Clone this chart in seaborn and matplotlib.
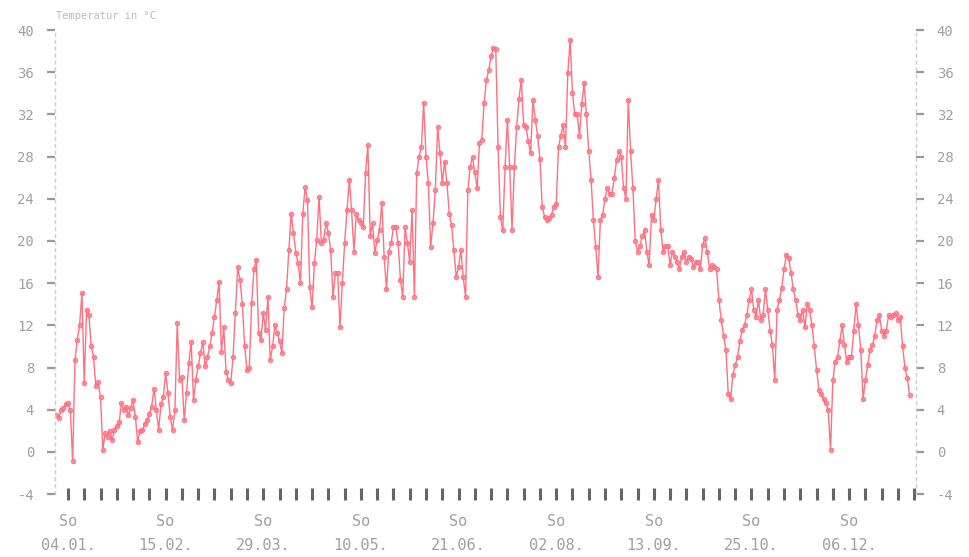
import numpy as np
import pandas as pd
import matplotlib
matplotlib.use("Agg")
import matplotlib.pyplot as plt
import matplotlib.dates as mdates
import seaborn as sns

# ---- data (daily temperature) ----
start_date = "2008-12-30"
temps = [
    3.5, 3.2, 4.0, 4.2, 4.5, 4.6, 4.0, -0.9, 8.7, 10.6, 12.0, 15.1, 6.5, 13.5, 13.0, 10.0,
    9.0, 6.2, 6.6, 5.2, 0.2, 1.8, 1.4, 2.0, 1.1, 2.1, 2.5, 2.8, 4.6, 4.0, 4.3, 3.5,
    4.2, 4.9, 3.3, 0.9, 2.0, 2.1, 2.6, 3.0, 3.6, 4.3, 6.0, 4.0, 2.1, 4.5, 5.2, 7.5,
    5.6, 3.3, 2.1, 4.0, 12.2, 6.8, 7.1, 3.0, 5.6, 8.4, 10.4, 4.9, 6.8, 8.1, 9.4, 10.4,
    8.1, 9.0, 10.0, 11.3, 12.8, 14.4, 16.1, 9.5, 11.8, 7.6, 6.8, 6.5, 9.0, 13.2, 17.5, 16.3,
    14.0, 10.0, 7.8, 8.0, 14.1, 17.3, 18.2, 11.3, 10.6, 13.2, 11.6, 14.7, 8.7, 10.0, 12.0, 11.3,
    10.5, 9.4, 13.6, 15.4, 19.1, 22.6, 20.8, 18.9, 17.9, 16.0, 22.6, 25.1, 23.9, 15.6, 13.7, 17.9,
    20.1, 24.2, 19.8, 20.1, 21.7, 20.8, 19.1, 14.7, 17.0, 17.0, 11.8, 16.0, 19.8, 22.9, 25.8, 22.9,
    19.0, 22.6, 22.0, 21.7, 21.3, 26.4, 29.1, 20.5, 21.7, 18.9, 20.1, 21.0, 23.6, 18.5, 15.4, 19.0,
    19.8, 21.3, 21.3, 19.8, 16.3, 14.7, 21.3, 19.8, 18.0, 22.9, 14.7, 26.4, 28.0, 28.9, 33.1, 28.0,
    25.5, 19.4, 21.7, 24.8, 30.8, 28.3, 25.5, 27.5, 25.5, 22.6, 21.5, 19.1, 16.6, 17.5, 19.1, 16.6,
    14.7, 24.8, 27.0, 28.0, 26.5, 25.0, 29.3, 29.6, 33.1, 35.3, 36.2, 37.5, 38.3, 38.2, 28.9, 22.3,
    21.0, 27.0, 31.5, 27.0, 21.0, 27.0, 30.8, 33.5, 35.3, 31.0, 30.8, 29.5, 28.3, 33.4, 31.5, 30.0,
    27.8, 23.2, 22.3, 22.0, 22.2, 22.5, 23.2, 23.5, 28.9, 30.0, 31.0, 28.9, 35.9, 39.1, 34.0, 32.0,
    32.0, 30.0, 33.0, 35.0, 32.0, 28.5, 25.8, 22.0, 19.4, 16.6, 22.0, 22.5, 24.0, 25.0, 24.5, 24.5,
    26.0, 27.7, 28.5, 28.0, 25.0, 24.0, 33.4, 28.5, 25.0, 20.0, 19.0, 19.5, 20.5, 21.0, 19.0, 17.7,
    22.5, 22.0, 24.0, 25.8, 21.0, 19.0, 19.5, 19.5, 17.7, 19.0, 18.5, 18.0, 17.3, 18.5, 19.0, 18.0,
    18.5, 18.3, 17.5, 18.0, 18.0, 17.3, 19.6, 20.3, 19.0, 17.3, 17.7, 17.5, 17.3, 14.4, 12.5, 11.0,
    9.7, 5.5, 5.0, 7.3, 8.2, 9.0, 10.5, 11.6, 12.0, 13.0, 14.4, 15.4, 13.5, 12.8, 14.4, 12.5,
    13.0, 15.4, 13.5, 11.5, 10.1, 6.8, 13.5, 14.4, 15.5, 17.3, 18.7, 18.4, 17.0, 15.4, 14.4, 13.0,
    12.5, 13.5, 11.8, 14.0, 13.5, 12.0, 10.0, 7.8, 5.9, 5.5, 5.0, 4.6, 4.0, 0.2, 6.8, 8.5,
    9.0, 10.5, 12.0, 10.1, 8.5, 9.0, 9.0, 11.5, 14.0, 12.0, 9.7, 5.0, 6.8, 8.2, 9.7, 10.1,
    11.0, 12.5, 13.0, 11.5, 11.0, 11.5, 13.0, 12.8, 13.0, 13.2, 12.5, 12.8, 10.0, 8.0, 7.0, 5.4,
]
y_ticks = [-4, 0, 4, 8, 12, 16, 20, 24, 28, 32, 36, 40]
x_label_dates = ["2009-01-04", "2009-02-15", "2009-03-29", "2009-05-10", "2009-06-21",
                 "2009-08-02", "2009-09-13", "2009-10-25", "2009-12-06"]
weekday_abbr = "So"
axis_title = "Temperatur in °C"

dates = pd.date_range(start_date, periods=len(temps), freq="D")
df = pd.DataFrame({"Datum": dates, "Temperatur": temps})

sns.set_style("white")
plt.rcParams["font.family"] = ["DejaVu Sans Mono", "DejaVu Sans"]

fig = plt.figure(figsize=(9.7, 5.57), dpi=100)
ax = fig.add_axes([0.0567, 0.113, 0.8876, 0.833])

sns.lineplot(data=df, x="Datum", y="Temperatur", ax=ax, color="#ff6073",
             linewidth=1.0, marker="o", markersize=3.4,
             markerfacecolor="#ff8090", markeredgecolor="#ff6073",
             markeredgewidth=0.5, alpha=0.9)

ax.set_ylim(-4, 40)
ax.set_xlim(pd.Timestamp("2008-12-29 10:00"), pd.Timestamp("2010-01-03 18:00"))
ax.set_xlabel("")
ax.set_ylabel("")

ax.set_yticks(y_ticks)
ax.set_yticklabels([str(v) for v in y_ticks])
ax.tick_params(axis="y", which="both", left=True, right=True, labelleft=True,
               labelright=True, length=6, width=1.6, color="#999999",
               labelcolor="#a0a0a0", labelsize=10, pad=9)

major = [pd.Timestamp(d) for d in x_label_dates]
ax.set_xticks(major)
ax.set_xticklabels([f"{weekday_abbr}\n{d.strftime('%d.%m.')}" for d in major],
                   linespacing=1.7)
ax.xaxis.set_minor_locator(mdates.WeekdayLocator(byweekday=mdates.SU))
ax.tick_params(axis="x", which="both", bottom=True, length=9, width=2.2,
               color="#666666", direction="inout")
ax.tick_params(axis="x", which="major", labelcolor="#a0a0a0", labelsize=11, pad=10)

for side in ["top", "bottom"]:
    ax.spines[side].set_visible(False)
for side in ["left", "right"]:
    ax.spines[side].set_visible(True)
    ax.spines[side].set_color("#cccccc")
    ax.spines[side].set_linestyle((0, (2, 3)))
    ax.spines[side].set_linewidth(1)

fig.text(0.058, 0.972, axis_title, fontsize=7.5, color="#bbbbbb", ha="left", va="center")

fig.savefig("out.png", dpi=100, facecolor="white")
